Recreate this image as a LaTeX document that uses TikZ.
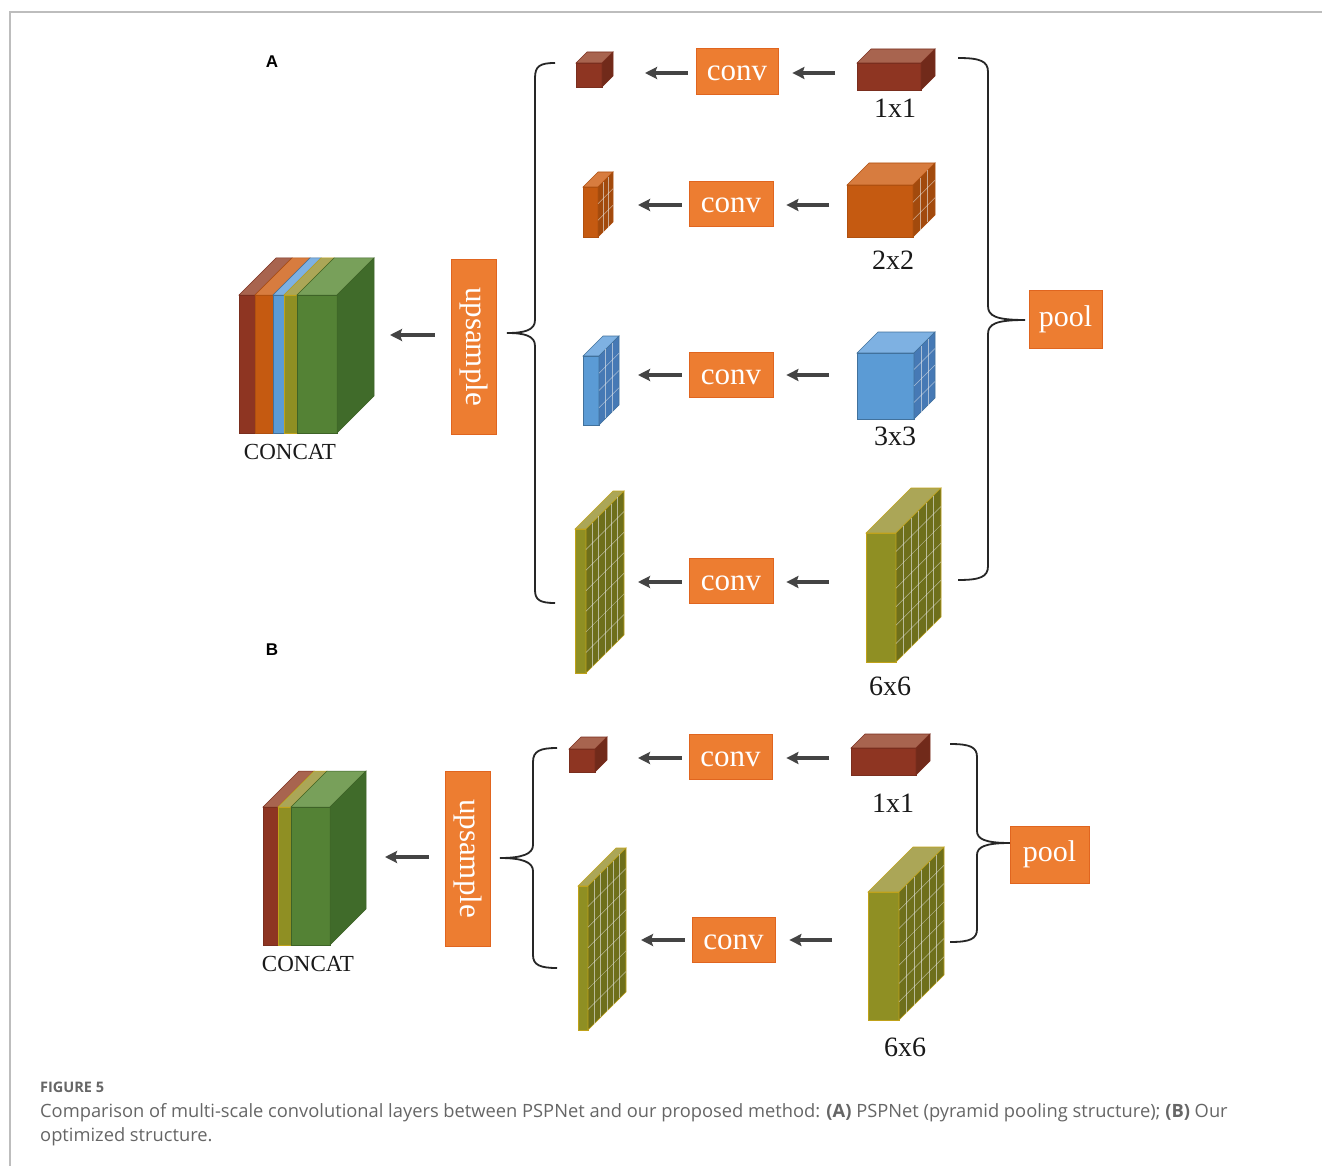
\documentclass[tikz,border=0pt]{standalone}
\usepackage{fontspec}
\setmainfont{Liberation Serif}
\newfontfamily\capfont{Open Sans}
\newfontfamily\panelfont{Liberation Sans}
\usetikzlibrary{arrows.meta}

\definecolor{boxorange}{HTML}{ED7D31}
\definecolor{boxedge}{HTML}{E0651F}
\definecolor{arrowgray}{HTML}{444444}
\definecolor{capgray}{HTML}{666666}
\definecolor{framegray}{HTML}{BDBDBD}
% faces: F front, T top, S side, E edge
\definecolor{redF}{HTML}{8E3522}\definecolor{redT}{HTML}{A8644F}
\definecolor{redS}{HTML}{712A1A}\definecolor{redE}{HTML}{7A2E1E}
\definecolor{orgF}{HTML}{C55A11}\definecolor{orgT}{HTML}{D77C3F}
\definecolor{orgS}{HTML}{A24A0D}\definecolor{orgE}{HTML}{B0500F}
\definecolor{bluF}{HTML}{5B9BD5}\definecolor{bluT}{HTML}{7EB1E2}
\definecolor{bluS}{HTML}{4679B5}\definecolor{bluE}{HTML}{41719C}
\definecolor{olvF}{HTML}{8F8F23}\definecolor{olvT}{HTML}{ABA657}
\definecolor{olvS}{HTML}{6E6F1B}\definecolor{olvE}{HTML}{C0A21A}
\definecolor{grnF}{HTML}{548235}\definecolor{grnT}{HTML}{78A05A}
\definecolor{grnS}{HTML}{406B2A}\definecolor{grnE}{HTML}{3E6327}

% #1,#2 front top-left, #3 width, #4 height, #5 depth, #6 colour, #7 grid lines, #8 name
\newcommand{\tensorbox}[8]{%
  \begin{scope}[shift={(#1,#2)}]
    \filldraw[fill=#6T, draw=#6E, line width=0.6pt] (0,0) -- (#5,-#5) -- ({#3+#5},-#5) -- (#3,0) -- cycle;
    \filldraw[fill=#6F, draw=#6E, line width=0.6pt] (0,0) rectangle (#3,#4);
    \filldraw[fill=#6S, draw=#6E, line width=0.6pt] (#3,0) -- ({#3+#5},-#5) -- ({#3+#5},{#4-#5}) -- (#3,#4) -- cycle;
    \ifnum#7>0
      \foreach \k in {1,...,#7}{
        \pgfmathsetmacro\fr{\k/(#7+1)}
        \draw[gridline] (#3,{\fr*#4}) -- ({#3+#5},{\fr*#4-#5});
      }
      \pgfmathtruncatemacro\nv{max(#7-1,2)}
      \foreach \k in {1,...,\nv}{
        \pgfmathsetmacro\fr{\k/(\nv+1)}
        \draw[gridline] ({#3+\fr*#5},{-\fr*#5}) -- ({#3+\fr*#5},{#4-\fr*#5});
      }
    \fi
    \coordinate (#8) at ({(#3+#5)/2},{(#4-#5)/2});
  \end{scope}}

\begin{document}
\begin{tikzpicture}[
  x=1pt, y=-1pt,
  opbox/.style={fill=boxorange, draw=boxedge, line width=0.8pt, text=white, inner sep=0pt,
    font=\fontsize{31}{31}\selectfont},
  convbox/.style={opbox, minimum width=84pt, minimum height=45pt, text height=19pt, text depth=0pt},
  flow/.style={-{Stealth[length=12pt,width=12pt,inset=2pt]}, draw=arrowgray, line width=3.2pt},
  brace/.style={draw=black!85, line width=1.8pt},
  gridline/.style={draw=white!85!gray, line width=0.5pt, opacity=0.6},
  sizelab/.style={font=\fontsize{28}{28}\selectfont, text=black!90},
  catlab/.style={font=\fontsize{23}{23}\selectfont, text=black!90},
  panel/.style={font=\panelfont\bfseries\fontsize{17}{17}\selectfont},
  captext/.style={anchor=base west, inner sep=0pt, text=capgray, font=\capfont\fontsize{18.3}{18.3}\selectfont}
]
  \useasboundingbox (0,0) rectangle (1322,1166);
  \fill[white] (0,0) rectangle (1322,1166);
  \draw[framegray, line width=1.2pt] (1322,12) -- (10,12) -- (10,1166);

  %% panel A
  \node[panel] (labA) at (272,62) {A};

  % concat stack
  \foreach \xa/\xb/\col in {239/255/red, 255/273/org, 273/284/blu, 284/297/olv, 297/337/grn}{
    \filldraw[fill=\col T, draw=\col E, line width=0.5pt] (\xa,295) -- ++(37,-37) -- (\xb+37,258) -- (\xb,295) -- cycle;
    \filldraw[fill=\col F, draw=\col E, line width=0.5pt] (\xa,295) rectangle (\xb,433);
  }
  \filldraw[fill=grnS, draw=grnE, line width=0.5pt] (337,295) -- (374,258) -- (374,396) -- (337,433) -- cycle;
  \node[catlab] (catA) at (290,452) {CONCAT};
  \coordinate (catAin) at (390,335);

  \node[opbox, minimum width=45pt, minimum height=175pt] (upA) at (473.5,346.5) {};
  \node[rotate=-90, text=white, font=\fontsize{31}{31}\selectfont] (upAtxt) at (upA.center) {upsample};
  \draw[flow] ([xshift=-16pt]upA.west |- catAin) -- (catAin);

  \draw[brace] (555,63) .. controls (540,63) and (535,66) .. (535,78) -- (535,320)
    .. controls (535,330) and (525,333) .. (507,333) .. controls (525,333) and (535,336) .. (535,346)
    -- (535,590) .. controls (535,600) and (540,603) .. (555,603);

  % pooled branches
  \tensorbox{576}{63}{26}{24}{11}{red}{0}{sA1}
  \tensorbox{857}{63}{64}{27}{14}{red}{0}{bA1}
  \tensorbox{583}{187}{15}{50}{15}{org}{2}{sA2}
  \tensorbox{847}{185}{66}{52}{22}{org}{2}{bA2}
  \tensorbox{583}{356}{16}{69}{20}{blu}{3}{sA3}
  \tensorbox{857}{353}{57}{66}{21}{blu}{3}{bA3}
  \tensorbox{575}{529}{11}{144}{38}{olv}{6}{sA4}
  \tensorbox{866}{533}{30}{129}{45}{olv}{6}{bA4}

  \node[convbox, minimum width=82pt, minimum height=46pt] (cA1) at (737,71) {conv};
  \node[convbox] (cA2) at (731,203.5) {conv};
  \node[convbox] (cA3) at (731,374.5) {conv};
  \node[convbox] (cA4) at (731,580.5) {conv};

  \coordinate (iA1) at (645,73);  \coordinate (oA1) at (835,73);
  \coordinate (iA2) at (638,205); \coordinate (oA2) at (829,205);
  \coordinate (iA3) at (638,375); \coordinate (oA3) at (829,375);
  \coordinate (iA4) at (638,582); \coordinate (oA4) at (829,582);
  \draw[flow] ([xshift=-8pt]cA1.west |- iA1) -- (iA1);
  \draw[flow] (oA1) -- ([xshift=14pt]cA1.east |- oA1);
  \foreach \r in {2,3,4}{
    \draw[flow] ([xshift=-7pt]cA\r.west |- iA\r) -- (iA\r);
    \draw[flow] (oA\r) -- ([xshift=13pt]cA\r.east |- oA\r);
  }

  \node[sizelab] (nA1) at (895,108) {1x1};
  \node[sizelab] (nA2) at (893,260) {2x2};
  \node[sizelab] (nA3) at (895,436) {3x3};
  \node[sizelab] (nA4) at (890,686) {6x6};

  \draw[brace] (958,58) .. controls (980,58) and (988,61) .. (988,72) -- (988,306)
    .. controls (988,316) and (996,320) .. (1025,320) .. controls (996,320) and (988,324) .. (988,334)
    -- (988,566) .. controls (988,577) and (980,580) .. (958,580);
  \node[opbox, minimum width=73pt, minimum height=58pt, font=\fontsize{30}{30}\selectfont] (poolA) at (1065.5,319) {pool};

  %% panel B
  \node[panel] (labB) at (272,650) {B};

  \foreach \xa/\xb/\col in {263/278/red, 278/291/olv, 291/330/grn}{
    \filldraw[fill=\col T, draw=\col E, line width=0.5pt] (\xa,807) -- ++(36,-36) -- (\xb+36,771) -- (\xb,807) -- cycle;
    \filldraw[fill=\col F, draw=\col E, line width=0.5pt] (\xa,807) rectangle (\xb,945);
  }
  \filldraw[fill=grnS, draw=grnE, line width=0.5pt] (330,807) -- (366,771) -- (366,909) -- (330,945) -- cycle;
  \node[catlab] (catB) at (308,964) {CONCAT};
  \coordinate (catBin) at (385,857);

  \node[opbox, minimum width=45pt, minimum height=175pt] (upB) at (467.5,858.5) {};
  \node[rotate=-90, text=white, font=\fontsize{31}{31}\selectfont] (upBtxt) at (upB.center) {upsample};
  \draw[flow] ([xshift=-16pt]upB.west |- catBin) -- (catBin);

  \draw[brace] (557,748) .. controls (540,748) and (533,751) .. (533,762) -- (533,845)
    .. controls (533,854) and (522,858) .. (500,858) .. controls (522,858) and (533,862) .. (533,871)
    -- (533,955) .. controls (533,965) and (540,968) .. (557,968);

  \tensorbox{569}{749}{26}{23}{12}{red}{0}{sB1}
  \tensorbox{851}{748}{65}{27}{14}{red}{0}{bB1}
  \tensorbox{578}{886}{10}{144}{38}{olv}{6}{sB2}
  \tensorbox{868}{892}{31}{128}{45}{olv}{6}{bB2}

  \node[convbox, minimum width=83pt] (cB1) at (730.5,756.5) {conv};
  \node[convbox, minimum width=83pt] (cB2) at (733.5,939.5) {conv};

  \coordinate (iB1) at (638,758); \coordinate (oB1) at (829,758);
  \coordinate (iB2) at (641,940); \coordinate (oB2) at (832,940);
  \foreach \r in {1,2}{
    \draw[flow] ([xshift=-7pt]cB\r.west |- iB\r) -- (iB\r);
    \draw[flow] (oB\r) -- ([xshift=14pt]cB\r.east |- oB\r);
  }

  \node[sizelab] (nB1) at (893,803) {1x1};
  \node[sizelab] (nB2) at (905,1047) {6x6};

  \draw[brace] (950,744) .. controls (970,744) and (977,747) .. (977,757) -- (977,831)
    .. controls (977,839) and (985,843) .. (1010,843) .. controls (985,843) and (977,847) .. (977,855)
    -- (977,929) .. controls (977,939) and (970,942) .. (950,942);
  \node[opbox, minimum width=79pt, minimum height=57pt, font=\fontsize{30}{30}\selectfont] (poolB) at (1049.5,854.5) {pool};

  %% caption
  \node[captext, font=\capfont\bfseries\fontsize{14.5}{14.5}\selectfont] (figno) at (40,1092) {FIGURE 5};
  \node[captext] (capl1) at (40,1117)
    {Comparison of multi-scale convolutional layers between PSPNet and our proposed method: \textbf{(A)} PSPNet (pyramid pooling structure); \textbf{(B)} Our};
  \node[captext] (capl2) at (40,1141) {optimized structure.};
\end{tikzpicture}
\end{document}
